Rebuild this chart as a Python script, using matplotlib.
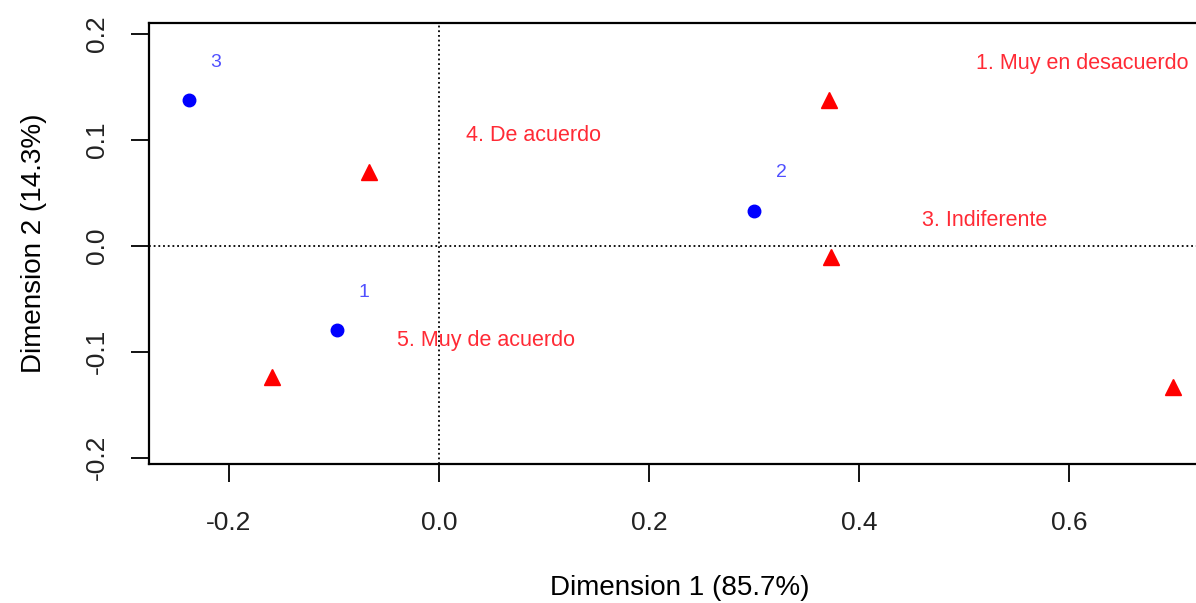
import matplotlib
matplotlib.use('Agg')
import matplotlib.pyplot as plt

# row points (blue) and column points (red) of the CA map
row_labels = ['1', '2', '3']
row_dim1 = [-0.097, 0.300, -0.238]
row_dim2 = [-0.080, 0.033, 0.137]

col_labels = ['1. Muy en desacuerdo', '2. En desacuerdo', '3. Indiferente',
              '4. De acuerdo', '5. Muy de acuerdo']
col_dim1 = [0.371, 0.699, 0.373, -0.067, -0.159]
col_dim2 = [0.137, -0.133, -0.011, 0.069, -0.124]

x_ticks = [-0.2, 0.0, 0.2, 0.4, 0.6]
y_ticks = [-0.2, -0.1, 0.0, 0.1, 0.2]
x_title = 'Dimension 1 (85.7%)'
y_title = 'Dimension 2 (14.3%)'

plt.rcParams['font.family'] = ['Liberation Sans', 'DejaVu Sans']

fig = plt.figure(figsize=(11.96, 6.03), dpi=100)
ax = fig.add_axes([0.1246, 0.2305, 0.8879, 0.7314])

ax.axhline(0, color='black', lw=1.3, ls=(0, (1, 1.6)), zorder=1)
ax.axvline(0, color='black', lw=1.3, ls=(0, (1, 1.6)), zorder=1)

ax.plot(row_dim1, row_dim2, 'o', color='blue', markersize=9, ls='none', zorder=3)
ax.plot(col_dim1, col_dim2, '^', color='red', markersize=11.5, ls='none', zorder=3)

for x, y, lab in zip(row_dim1, row_dim2, row_labels):
    ax.annotate(lab, (x, y), xytext=(27, 38), textcoords='offset pixels',
                ha='center', va='center', color='#5050ff', fontsize=14)

col_texts = []
for x, y, lab in zip(col_dim1, col_dim2, col_labels):
    t = ax.annotate(lab, (x, y), xytext=(10, 37), textcoords='offset pixels',
                    ha='left', va='center', color='#ff2a35', fontsize=15.5)
    col_texts.append(t)

ax.set_xlim(-0.2762, 0.735)
ax.set_ylim(-0.206, 0.21)
ax.set_xticks(x_ticks)
ax.set_yticks(y_ticks)
ax.set_xticklabels(['%.1f' % v for v in x_ticks])
ax.set_yticklabels(['%.1f' % v for v in y_ticks], rotation=90, va='center')
ax.tick_params(length=13, width=1.3, pad=16, labelsize=19, labelcolor='#222222')
ax.tick_params(axis='x', pad=21)

for side in ['left', 'bottom', 'top']:
    ax.spines[side].set_linewidth(1.6)
ax.spines['right'].set_visible(False)

ax.set_xlabel(x_title, fontsize=20)
ax.xaxis.label.set_va('center')
ax.xaxis.set_label_coords(0.5, -0.281)
ax.set_ylabel(y_title, fontsize=20)
ax.yaxis.label.set_va('center')
ax.yaxis.set_label_coords(-0.108, 0.5)

# shift red labels like R's adj: offset grows with text width
fig.canvas.draw()
rend = fig.canvas.get_renderer()
fig_w = fig.bbox.width
for t in col_texts:
    w = t.get_window_extent(rend).width
    t.xyann = (10.6 + 0.644 * w, 37)
fig.canvas.draw()
for t in col_texts:
    if t.get_window_extent(rend).x0 > fig_w:
        t.remove()

fig.savefig('out.png', dpi=100)
